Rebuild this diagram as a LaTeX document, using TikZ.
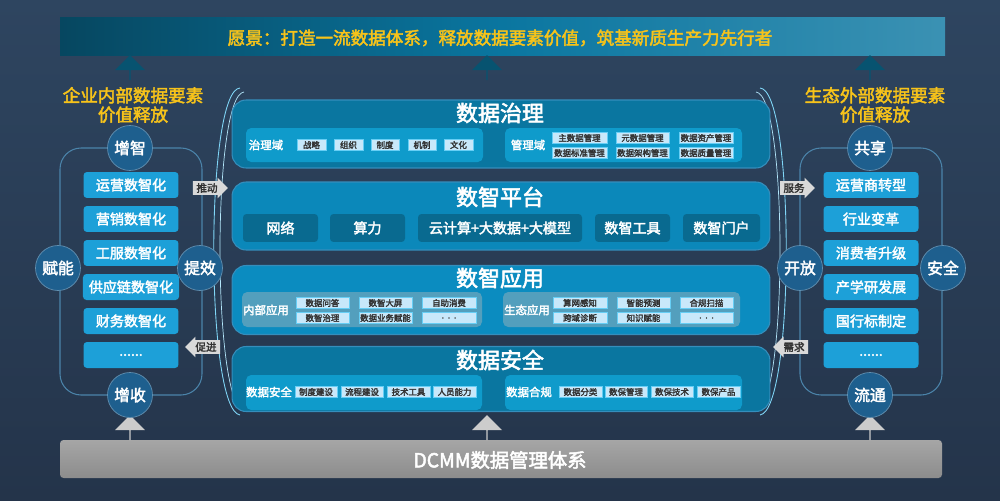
\documentclass[tikz,border=0pt]{standalone}
\usepackage{fontspec}
\setmainfont{Noto Sans CJK SC}[AutoFakeBold=2.5]
\usetikzlibrary{shapes.arrows,calc}
\definecolor{bgtop}{HTML}{2E4560}
\definecolor{bgbot}{HTML}{24344A}
\definecolor{layerA}{HTML}{0A76A0}
\definecolor{layerB}{HTML}{0B8CC0}
\definecolor{inner}{HTML}{0F9BCB}
\definecolor{chip}{HTML}{C8E8FA}
\definecolor{ring}{HTML}{1E5F8E}
\definecolor{sidebox}{HTML}{1DA0D8}
\definecolor{gold}{HTML}{F7C31A}
\newcommand\sixdots{......}
\newcommand\appdots{.\ \ .\ \ .}
\begin{document}
\begin{tikzpicture}[x=0.02cm,y=-0.02cm,
    layer/.style={draw=cyan!40!layerA, line width=0.6pt, fill=#1, rounded corners=8pt},
    panel/.style={fill=inner, rounded corners=3pt},
    chip/.style={fill=chip, draw=cyan!60, line width=0.3pt, inner sep=0pt,
      font=\fontsize{4.8pt}{5pt}\selectfont\bfseries, text=black!80},
    title/.style={text=white, font=\fontsize{12.5pt}{13pt}\selectfont\bfseries},
    lbl/.style={text=white, font=\fontsize{6.5pt}{7pt}\selectfont\bfseries},
    side/.style={fill=sidebox, rounded corners=2pt, minimum width=1.9cm,
      minimum height=0.52cm, text=white, font=\fontsize{8pt}{9pt}\selectfont\bfseries},
    dot/.style={circle, fill=ring, draw=ring!70!white, minimum size=0.9cm, inner sep=0pt,
      text=white, font=\fontsize{9pt}{10pt}\selectfont\bfseries},
    upar/.style={single arrow, single arrow head extend=5pt, shape border rotate=90,
      minimum height=0.5cm, minimum width=0.6cm, inner sep=0pt, fill=#1},
    tag/.style={single arrow, single arrow head extend=2pt, fill=black!15, inner sep=1pt,
      minimum height=0.7cm, text=black!80, font=\fontsize{6pt}{7pt}\selectfont\bfseries},
    platchip/.style={fill=layerA!90!black, rounded corners=2pt, minimum height=0.56cm,
      inner sep=0pt, text=white, font=\fontsize{8pt}{9pt}\selectfont\bfseries}
  ]
  \shade[top color=bgtop, bottom color=bgbot] (0,0) rectangle (1000,500);
  \useasboundingbox (0,0) rectangle (1000,500);

  % vision and base
  \shade[left color=layerA!60!black, right color=layerA!80, middle color=layerA]
    (60,18) rectangle (945,56);
  \node[text=gold, font=\fontsize{10pt}{11pt}\selectfont\bfseries] (vision) at (500,38)
    {愿景：打造一流数据体系，释放数据要素价值，筑基新质生产力先行者};
  \shade[top color=black!35, bottom color=black!45, rounded corners=2pt] (60,440) rectangle (942,478);
  \node[text=white, font=\fontsize{11pt}{12pt}\selectfont\bfseries] (dcmm) at (500,460) {DCMM数据管理体系};
  \foreach \x in {130,487,870} {
    \node[upar=black!20] at (\x,428) {};
    \node[upar=layerA!70!black] at (\x,68) {};
  }

  % rings around the layers
  \draw[cyan!50, line width=0.5pt] (240,88) .. controls (205,90) and (205,410) .. (240,415);
  \draw[cyan!50, line width=0.5pt] (760,88) .. controls (795,90) and (795,410) .. (760,415);
  \draw[cyan!30, line width=0.4pt] (244,92) .. controls (212,95) and (212,405) .. (244,411);
  \draw[cyan!30, line width=0.4pt] (756,92) .. controls (788,95) and (788,405) .. (756,411);

  % layers
  \node[layer=layerA, minimum width=10.76cm, minimum height=1.36cm] (gov) at (501,134) {};
  \node[layer=layerB!80!layerA, minimum width=10.76cm, minimum height=1.36cm] (plat) at (501,216) {};
  \node[layer=layerB, minimum width=10.76cm, minimum height=1.38cm] (app) at (501,300) {};
  \node[layer=layerA, minimum width=10.76cm, minimum height=1.3cm] (sec) at (501,379) {};
  \node[title] at (500,113) {数据治理};
  \node[title] at (500,197) {数智平台};
  \node[title] at (500,278) {数智应用};
  \node[title] at (500,360) {数据安全};

  % governance
  \fill[panel] (246,128) rectangle (483,162);
  \fill[panel] (505,128) rectangle (742,162);
  \node[lbl] at (266,145) {治理域};
  \node[lbl] at (528,145) {管理域};
  \foreach \t/\a/\b in {战略/297/326,组织/334/363,制度/371/399,机制/408/436,文化/444/473}
    \node[chip, minimum width=(\b-\a)*0.02cm, minimum height=0.22cm] at ({(\a+\b)/2},145) {\t};
  \foreach \t/\a/\b/\y in {主数据管理/552/607/138,元数据管理/616/669/138,数据资产管理/679/733/138,
      数据标准管理/552/607/153,数据架构管理/616/669/153,数据质量管理/679/733/153}
    \node[chip, minimum width=(\b-\a)*0.02cm, minimum height=0.22cm] at ({(\a+\b)/2},\y) {\t};

  % platform
  \foreach \t/\a/\b in {网络/243/318,算力/330/405,云计算+大数据+大模型/418/582,数智工具/595/670,数智门户/683/760}
    \node[platchip, minimum width=(\b-\a)*0.02cm] at ({(\a+\b)/2},228) {\t};

  % applications
  \fill[panel, fill=layerA!70] (242,292) rectangle (482,327);
  \fill[panel, fill=layerA!70] (503,292) rectangle (740,327);
  \node[lbl] at (266,310) {内部应用};
  \node[lbl] at (527,310) {生态应用};
  \foreach \t/\a/\b/\y in {数据问答/296/349/303,数智大屏/359/412/303,自助消费/422/476/303,
      数智治理/296/349/318,数据业务赋能/359/412/318,\appdots/422/476/318,
      算网感知/553/607/303,智能预测/617/670/303,合规扫描/680/733/303,
      跨域诊断/553/607/318,知识赋能/617/670/318,\appdots/680/733/318}
    \node[chip, minimum width=(\b-\a)*0.02cm, minimum height=0.22cm] at ({(\a+\b)/2},\y) {\t};

  % security
  \fill[panel] (246,375) rectangle (482,410);
  \fill[panel] (505,375) rectangle (742,410);
  \node[lbl] at (269,392) {数据安全};
  \node[lbl] at (529,392) {数据合规};
  \foreach \t/\a/\b in {制度建设/295/337,流程建设/341/383,技术工具/387/430,人员能力/433/476,
      数据分类/559/602,数保管理/605/647,数保技术/651/693,数保产品/697/740}
    \node[chip, minimum width=(\b-\a)*0.02cm, minimum height=0.21cm] at ({(\a+\b)/2},392) {\t};

  % left side
  \node[text=gold, font=\fontsize{10pt}{11pt}\selectfont\bfseries, align=center] (ltitle)
    at (133,105) {企业内部数据要素\\价值释放};
  \draw[cyan!30!ring, line width=0.6pt, rounded corners=12pt] (60,148) rectangle (202,395);
  \foreach \t [count=\i] in {运营数智化,营销数智化,工服数智化,供应链数智化,财务数智化,\sixdots}
    \node[side] (l\i) at (131,{151+34*\i}) {\t};
  \node[dot] (lzz) at (130,148) {增智};
  \node[dot] (lzs) at (130,395) {增收};
  \node[dot] (lfn) at (58,268) {赋能};
  \node[dot] (ltx) at (200,268) {提效};

  % right side
  \node[text=gold, font=\fontsize{10pt}{11pt}\selectfont\bfseries, align=center] (rtitle)
    at (875,105) {生态外部数据要素\\价值释放};
  \draw[cyan!30!ring, line width=0.6pt, rounded corners=12pt] (800,148) rectangle (942,395);
  \foreach \t [count=\i] in {运营商转型,行业变革,消费者升级,产学研发展,国行标制定,\sixdots}
    \node[side] (r\i) at (871,{151+34*\i}) {\t};
  \node[dot] (rgx) at (870,148) {共享};
  \node[dot] (rlt) at (870,395) {流通};
  \node[dot] (rkf) at (800,268) {开放};
  \node[dot] (raq) at (943,268) {安全};

  % tags
  \node[tag] (tpush) at (207,188) {推动};
  \node[tag, shape border rotate=180] (tpro) at (206,347) {促进};
  \node[tag] (tsrv) at (794,188) {服务};
  \node[tag, shape border rotate=180] (tneed) at (794,347) {需求};
\end{tikzpicture}
\end{document}
